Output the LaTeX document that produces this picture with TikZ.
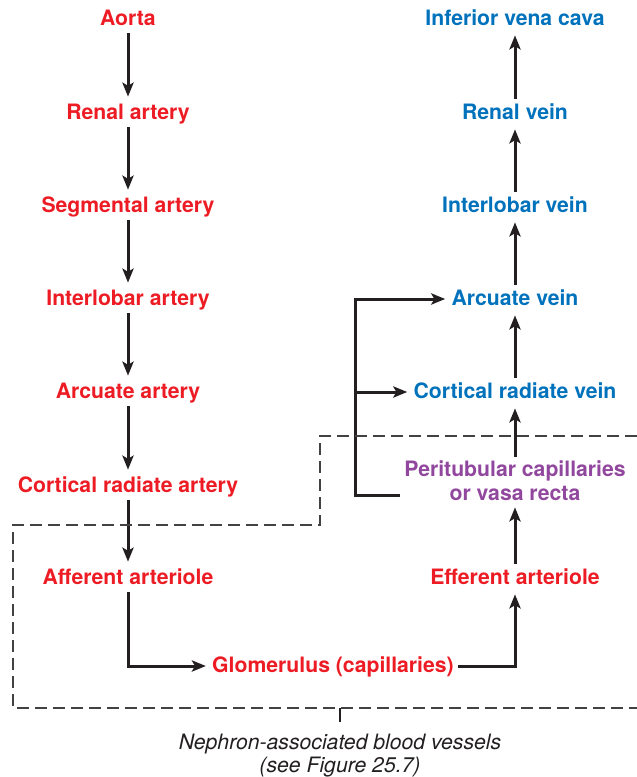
\documentclass[tikz,border=0pt]{standalone}
\usepackage{fontspec}
\setmainfont{TeX Gyre Heros}
\usetikzlibrary{arrows.meta}
\definecolor{artred}{RGB}{237,28,36}
\definecolor{veinblue}{RGB}{0,114,188}
\definecolor{capviolet}{RGB}{146,71,158}
\definecolor{inkgray}{RGB}{35,31,32}
\newcommand{\vesselfont}{\fontsize{10.6}{12}\selectfont\bfseries}
\tikzset{
  vessel/.style={font=\vesselfont, inner sep=2pt, text height=8pt, text depth=2pt},
  artery/.style={vessel, text=artred},
  vein/.style={vessel, text=veinblue},
  flow/.style={draw=inkgray, line width=1.5pt, shorten >=1pt,
    -{Stealth[length=7pt,width=5.6pt,inset=1.6pt]}},
  nephron/.style={draw=inkgray!85, line width=0.75pt, dash pattern=on 6pt off 3pt}
}
\begin{document}
\begin{tikzpicture}[x=0.5pt,y=-0.5pt]
      \useasboundingbox (0,0) rectangle (637,777);
      % arterial side
      \node [artery] (aorta)  at (128,19)  {Aorta};
      \node [artery] (renart) at (128,113) {Renal artery};
      \node [artery] (segart) at (128,206) {Segmental artery};
      \node [artery] (intart) at (128,299) {Interlobar artery};
      \node [artery] (arcart) at (128,392) {Arcuate artery};
      \node [artery] (corart) at (128,486) {Cortical radiate artery};
      \node [artery] (aff)    at (128,578) {Afferent arteriole};
      \node [artery] (glom)   at (333,666) {Glomerulus (capillaries)};
      \node [artery] (eff)    at (515,578) {Efferent arteriole};
      \node [font=\vesselfont, inner sep=2pt, align=center, text=capviolet] (peri) at (515,481)
            {Peritubular capillaries\\or vasa recta};
      % venous side
      \node [vein] (crv)  at (515,392) {Cortical radiate vein};
      \node [vein] (arcv) at (515,299) {Arcuate vein};
      \node [vein] (intv) at (515,206) {Interlobar vein};
      \node [vein] (renv) at (515,113) {Renal vein};
      \node [vein] (ivc)  at (515,19)  {Inferior vena cava};
      \foreach \a/\b in {aorta/renart,renart/segart,segart/intart,intart/arcart,arcart/corart,corart/aff,
                         eff/peri,peri/crv,crv/arcv,arcv/intv,intv/renv,renv/ivc}
        \draw [flow] (\a) to (\b);
      \draw [flow] (aff) |- (glom);
      \draw [flow] (glom) -| (eff);
      \coordinate (bypass) at (355,495);
      \draw [flow] (peri.west |- bypass) -- (bypass) |- (arcv);
      \draw [flow] (bypass |- crv) -- (crv);
      % nephron outline
      \draw [nephron] (637,436) -- (320,436) -- (320,525) -- (13,525) -- (13,708) -- (637,708);
      \coordinate (tick) at (340,708);
      \node [anchor=north, inner ysep=6pt, inner xsep=0pt, align=center, text=inkgray,
             font=\fontsize{10.6}{11.5}\selectfont\itshape] (note) at (340,722)
            {Nephron-associated blood vessels\\(see Figure 25.7)};
      \draw [inkgray, line width=0.8pt] (tick) -- (note.north);
\end{tikzpicture}
\end{document}
